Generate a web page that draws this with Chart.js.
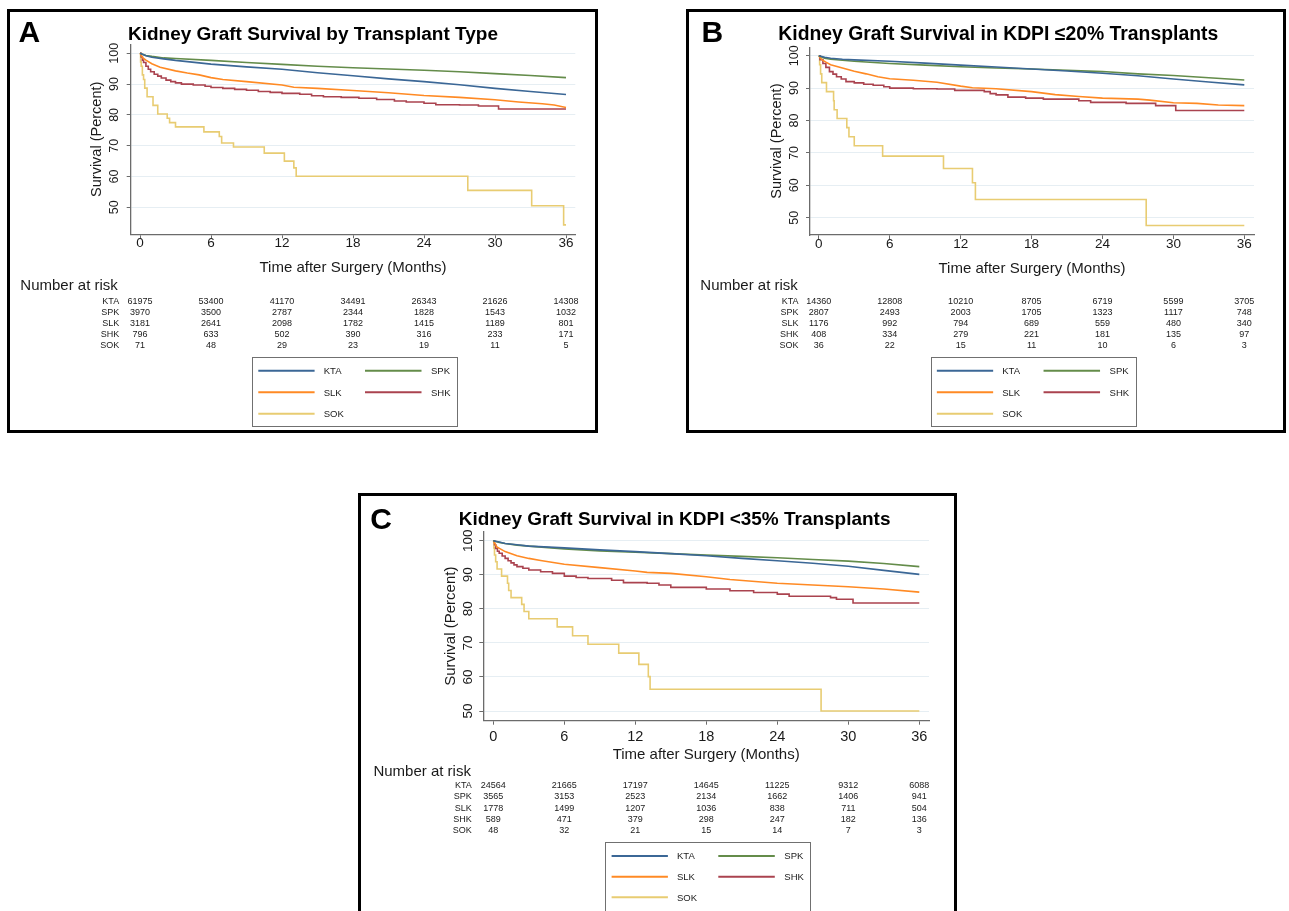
<!DOCTYPE html>
<html>
<head>
<meta charset="utf-8">
<script src="https://cdn.jsdelivr.net/npm/chart.js@4.4.1/dist/chart.umd.min.js"></script>
<style>
  html, body { margin: 0; padding: 0; background: #fff; overflow: hidden; width: 1289px; height: 911px; }
  canvas { position: absolute; }
  .frame { position: absolute; border: 3px solid #000; box-sizing: border-box; pointer-events: none; }
</style>
</head>
<body>
<canvas id="chartA"></canvas>
<canvas id="chartB"></canvas>
<canvas id="chartC"></canvas>
<script>
// Series and axis definitions
const groups = ['KTA', 'SPK', 'SLK', 'SHK', 'SOK'];
const colors = ['#3b6796', '#648c4a', '#ff8a24', '#aa434f', '#e8cc72'];
const stepped = [false, false, false, true, true];
const xTicks = [0, 6, 12, 18, 24, 30, 36];
const yTicks = [50, 60, 70, 80, 90, 100];

// Panel A: all transplants  [months, survival %]
const kmA_KTA = [[0,100],[0.5,99.2],[1,98.7],[2,98.2],[3,97.7],[6,96.5],[9,95.6],[12,94.8],[15,93.7],[18,92.7],[21,91.7],[24,90.8],[27,89.8],[30,88.6],[33,87.6],[36,86.6]];
const kmA_SPK = [[0,100],[0.5,99.3],[1,99.0],[2,98.5],[3,98.3],[6,97.7],[9,97.0],[12,96.4],[15,95.8],[18,95.3],[21,94.9],[24,94.5],[27,94.0],[30,93.4],[33,92.8],[36,92.1]];
const kmA_SLK = [[0,100],[0.25,98.5],[0.5,97.8],[1,96.6],[1.7,95.5],[3,94.3],[4,93.6],[5,93.0],[6,92.1],[7,91.5],[9,90.8],[12,89.7],[13,89.0],[15,88.6],[18,87.9],[21,87.2],[24,86.3],[27,85.7],[30,84.9],[32,84.2],[34,83.6],[35,83.2],[36,82.4]];
const kmA_SHK = [[0,100],[0.1,98.8],[0.2,97.8],[0.3,97.0],[0.5,95.8],[0.7,94.8],[0.9,94.0],[1.2,93.2],[1.5,92.6],[1.8,92.0],[2.2,91.3],[2.6,90.8],[3,90.4],[3.5,90.0],[4.5,89.7],[5.5,89.3],[6,88.9],[7,88.6],[8,88.3],[9,88.0],[10,87.6],[11,87.3],[12,87.0],[13.5,86.7],[14.5,86.2],[15.5,85.9],[17,85.7],[18.5,85.4],[20,85.0],[21.5,84.5],[22.5,84.2],[24,83.8],[25,83.3],[27,83.2],[28.6,82.9],[30.3,81.9],[36,81.9]];
const kmA_SOK = [[0,100],[0.05,97.2],[0.1,95.8],[0.2,93.0],[0.3,91.5],[0.4,88.7],[0.6,85.9],[1.1,83.1],[1.5,80.3],[2.3,78.9],[2.5,77.5],[3.0,76.1],[5.4,74.5],[6.7,73.0],[6.9,70.9],[7.9,69.6],[10.5,67.6],[12.2,65.0],[13.0,62.8],[13.2,60.1],[27.7,55.5],[33.1,50.5],[35.8,44.3],[36,44.3]];
const riskA = [
  [61975, 53400, 41170, 34491, 26343, 21626, 14308],
  [3970, 3500, 2787, 2344, 1828, 1543, 1032],
  [3181, 2641, 2098, 1782, 1415, 1189, 801],
  [796, 633, 502, 390, 316, 233, 171],
  [71, 48, 29, 23, 19, 11, 5]
];

// Panel B: KDPI <=20%
const kmB_KTA = [[0,100],[0.5,99.5],[1,99.2],[2,98.9],[3,98.7],[6,98.3],[9,97.7],[12,97.1],[15,96.5],[18,95.9],[21,95.3],[24,94.6],[27,93.8],[30,92.8],[33,91.9],[36,91.0]];
const kmB_SPK = [[0,100],[0.5,99.2],[1,98.9],[2,98.6],[3,98.3],[6,97.6],[9,97.1],[12,96.6],[15,96.2],[18,95.9],[21,95.5],[24,95.1],[27,94.4],[30,93.9],[33,93.2],[36,92.5]];
const kmB_SLK = [[0,100],[0.25,98.8],[0.6,98.0],[1,97.2],[2,96.2],[3,95.2],[4,94.4],[5,93.5],[6,92.9],[8,92.4],[10,91.8],[12,90.6],[13,90.1],[15,89.8],[18,88.9],[20,88.0],[22,87.4],[24,86.9],[27,86.6],[28,86.3],[30,85.5],[32,85.3],[33.8,84.8],[36,84.6]];
const kmB_SHK = [[0,100],[0.1,98.8],[0.35,97.6],[0.6,96.4],[0.9,95.1],[1.2,94.3],[1.5,93.5],[1.9,92.8],[2.3,92.0],[3,91.6],[3.8,91.2],[4.6,90.9],[5.5,90.4],[6,90.0],[8,89.8],[10,89.7],[11.5,89.3],[14,88.9],[14.5,88.3],[15,87.9],[16,87.2],[17.5,86.9],[19,86.6],[22,86.1],[23,85.6],[26,85.3],[28.5,84.6],[30.2,83.1],[36,83.1]];
const kmB_SOK = [[0,100],[0.07,97.2],[0.15,94.4],[0.25,91.7],[0.65,88.9],[1.25,86.1],[1.3,83.3],[1.55,80.6],[2.37,77.8],[2.55,75.0],[3.0,72.2],[5.4,69.0],[10.55,65.2],[13.0,60.8],[13.25,55.6],[27.7,47.6],[36,47.6]];
const riskB = [
  [14360, 12808, 10210, 8705, 6719, 5599, 3705],
  [2807, 2493, 2003, 1705, 1323, 1117, 748],
  [1176, 992, 794, 689, 559, 480, 340],
  [408, 334, 279, 221, 181, 135, 97],
  [36, 22, 15, 11, 10, 6, 3]
];

// Panel C: KDPI <35%
const kmC_KTA = [[0,100],[0.5,99.6],[1,99.2],[2,98.8],[3,98.4],[6,97.9],[9,97.3],[12,96.8],[15,96.2],[18,95.6],[21,94.8],[24,94.1],[27,93.4],[30,92.5],[33,91.3],[36,90.1]];
const kmC_SPK = [[0,100],[0.5,99.5],[1,99.2],[2,98.7],[3,98.4],[6,97.6],[9,97.0],[12,96.6],[15,96.2],[18,95.8],[21,95.4],[24,95.0],[27,94.5],[30,94.0],[33,93.3],[36,92.4]];
const kmC_SLK = [[0,100],[0.3,98.2],[1,96.8],[2,95.6],[3,94.8],[4,94.2],[6,93.1],[9,92.1],[12,91.1],[13,90.7],[15,90.4],[18,89.4],[20,88.6],[24,87.5],[27,87.0],[30,86.5],[33,85.8],[36,84.9]];
const kmC_SHK = [[0,100],[0.1,98.8],[0.2,97.7],[0.35,96.9],[0.5,96.3],[0.75,95.5],[1,94.8],[1.25,94.1],[1.5,93.5],[1.75,92.9],[2,92.4],[2.5,91.9],[3,91.4],[4,90.9],[5,90.4],[6,89.6],[7,89.2],[8,88.9],[10,88.4],[11,87.7],[13,87.5],[14,87.0],[15,86.3],[18,85.8],[20,85.3],[22,84.8],[24,84.3],[25,83.7],[28.5,83.3],[29,82.8],[30.4,81.7],[36,81.7]];
const kmC_SOK = [[0,100],[0.05,97.9],[0.1,95.8],[0.2,93.8],[0.32,91.7],[0.7,89.6],[1.2,87.5],[1.3,85.4],[1.5,83.3],[2.4,81.3],[2.6,79.2],[3.0,77.1],[5.4,74.7],[6.7,72.1],[8.0,69.6],[10.6,67.0],[12.3,63.7],[13.1,60.1],[13.25,56.4],[27.7,50.0],[36,50.0]];
const riskC = [
  [24564, 21665, 17197, 14645, 11225, 9312, 6088],
  [3565, 3153, 2523, 2134, 1662, 1406, 941],
  [1778, 1499, 1207, 1036, 838, 711, 504],
  [589, 471, 379, 298, 247, 182, 136],
  [48, 32, 21, 15, 14, 7, 3]
];

const FONT = '"Liberation Sans", Arial, Helvetica, sans-serif';

// page geometry of each panel (pixels)
const panels = [
  { id: 'chartA', letter: 'A', title: 'Kidney Graft Survival by Transplant Type',
    km: [kmA_KTA, kmA_SPK, kmA_SLK, kmA_SHK, kmA_SOK], risk: riskA,
    box: [7, 9, 598, 433], axL: 130.7, axR: 575.3, axT: 44.3, axB: 234.3, t0: 140, t36: 566, y100: 53.3, y50: 207.3,
    letterX: 18.5, letterBase: 41.7, titleX: 128, titleBase: 40, titleW: 370,
    yLabX: 113, yLabSize: 12.5, yTitX: 96, yTitSize: 14.5, xLabY: 242.3, xLabSize: 13.5, xTitY: 266.7, xTitSize: 15,
    narX: 20.3, narY: 285, rowY: [300.7, 311.7, 322.7, 333.3, 344.3],
    legTop: 357.3, legBot: 426.7, legRows: [370.7, 392.3, 413.7] },
  { id: 'chartB', letter: 'B', title: 'Kidney Graft Survival in KDPI \u226420% Transplants',
    km: [kmB_KTA, kmB_SPK, kmB_SLK, kmB_SHK, kmB_SOK], risk: riskB,
    box: [686, 9, 1286, 433], axL: 810, axR: 1254, axT: 47.3, axB: 235, t0: 818.8, t36: 1244.3, y100: 55.7, y50: 217.7,
    letterX: 701.5, letterBase: 41.7, titleX: 778.3, titleBase: 40, titleW: 440,
    yLabX: 793.3, yLabSize: 12.5, yTitX: 776, yTitSize: 14.5, xLabY: 242.7, xLabSize: 13.5, xTitY: 267.3, xTitSize: 15,
    narX: 700.3, narY: 285, rowY: [300.7, 311.7, 322.7, 333.3, 344.3],
    legTop: 357.3, legBot: 426.7, legRows: [370.7, 392.3, 413.7] },
  { id: 'chartC', letter: 'C', title: 'Kidney Graft Survival in KDPI <35% Transplants',
    km: [kmC_KTA, kmC_SPK, kmC_SLK, kmC_SHK, kmC_SOK], risk: riskC,
    box: [358, 493, 957, 915], axL: 483.3, axR: 929, axT: 531.7, axB: 720.7, t0: 493.3, t36: 919.3, y100: 540.7, y50: 711,
    letterX: 370.3, letterBase: 529.3, titleX: 458.8, titleBase: 525, titleW: 432,
    yLabX: 466.7, yLabSize: 13.5, yTitX: 450, yTitSize: 15, xLabY: 735.3, xLabSize: 14.5, xTitY: 753.7, xTitSize: 15,
    narX: 373.4, narY: 771, rowY: [785, 796, 807.3, 818.7, 829.7],
    legTop: 841.7, legBot: 911.5, legRows: [856, 876.7, 897.3] }
];

function put(ctx, str, x, yc, size, align, bold) {
  ctx.font = (bold ? 'bold ' : '') + size + 'px ' + FONT;
  ctx.textAlign = align;
  ctx.textBaseline = 'alphabetic';
  ctx.fillText(str, x, yc + size * 0.36);
}

function drawPanelText(chart, P) {
  const ctx = chart.ctx;
  const ox = P.box[0], oy = P.box[1];
  const xs = chart.scales.x, ys = chart.scales.y;
  const area = chart.chartArea;
  ctx.save();

  // panel letter and title
  ctx.fillStyle = '#000';
  ctx.textAlign = 'left';
  ctx.textBaseline = 'alphabetic';
  ctx.font = 'bold 30px ' + FONT;
  ctx.fillText(P.letter, P.letterX - ox, P.letterBase - oy);
  ctx.font = 'bold 19px ' + FONT;
  const tsize = 19 * P.titleW / ctx.measureText(P.title).width;
  ctx.font = 'bold ' + tsize.toFixed(2) + 'px ' + FONT;
  ctx.fillText(P.title, P.titleX - ox, P.titleBase - oy);

  // y tick labels (vertical, Stata style)
  ctx.fillStyle = '#1a1a1a';
  yTicks.forEach(v => {
    ctx.save();
    ctx.translate(P.yLabX - ox, ys.getPixelForValue(v));
    ctx.rotate(-Math.PI / 2);
    put(ctx, String(v), 0, 0, P.yLabSize, 'center');
    ctx.restore();
  });
  ctx.save();
  ctx.translate(P.yTitX - ox, (area.top + area.bottom) / 2);
  ctx.rotate(-Math.PI / 2);
  put(ctx, 'Survival (Percent)', 0, 0, P.yTitSize, 'center');
  ctx.restore();

  // x tick labels + title
  xTicks.forEach(t => put(ctx, String(t), xs.getPixelForValue(t), P.xLabY - oy, P.xLabSize, 'center'));
  put(ctx, 'Time after Surgery (Months)', (area.left + area.right) / 2, P.xTitY - oy, P.xTitSize, 'center');

  // number at risk table
  put(ctx, 'Number at risk', P.narX - ox, P.narY - oy, 15, 'left');
  groups.forEach((g, i) => {
    const y = P.rowY[i] - oy;
    put(ctx, g, P.axL - 11.5 - ox, y, 9, 'right');
    P.risk[i].forEach((n, j) => put(ctx, String(n), xs.getPixelForValue(xTicks[j]), y, 9, 'center'));
  });

  // legend
  const cx = xs.getPixelForValue(18);
  ctx.strokeStyle = '#707070';
  ctx.lineWidth = 1;
  ctx.strokeRect(Math.round(cx - 101) + 0.5, Math.round(P.legTop - oy) + 0.5, 205, Math.round(P.legBot - P.legTop));
  groups.forEach((g, i) => {
    const col = i % 2, row = Math.floor(i / 2);
    const y = P.legRows[row] - oy;
    const x1 = cx + (col ? 12 : -94.7), x2 = cx + (col ? 68.5 : -38.4);
    ctx.strokeStyle = colors[i];
    ctx.lineWidth = 2;
    ctx.beginPath();
    ctx.moveTo(x1, y);
    ctx.lineTo(x2, y);
    ctx.stroke();
    ctx.fillStyle = '#1a1a1a';
    put(ctx, g, cx + (col ? 78 : -29.3), y, 9.5, 'left');
  });
  ctx.restore();
}

function makePanel(P) {
  const cv = document.getElementById(P.id);
  const w = P.box[2] - P.box[0], h = P.box[3] - P.box[1];
  cv.width = w; cv.height = h;
  cv.style.left = P.box[0] + 'px';
  cv.style.top = P.box[1] + 'px';
  cv.style.width = w + 'px';
  cv.style.height = h + 'px';

  const frame = document.createElement('div');
  frame.className = 'frame';
  frame.style.left = P.box[0] + 'px';
  frame.style.top = P.box[1] + 'px';
  frame.style.width = w + 'px';
  frame.style.height = h + 'px';
  document.body.appendChild(frame);

  const pxm = (P.t36 - P.t0) / 36, pyu = (P.y50 - P.y100) / 50;
  const xMin = -(P.t0 - P.axL) / pxm, xMax = 36 + (P.axR - P.t36) / pxm;
  const yMax = 100 + (P.y100 - P.axT) / pyu, yMin = 50 - (P.axB - P.y50) / pyu;

  new Chart(cv, {
    type: 'line',
    data: {
      datasets: groups.map((g, i) => ({
        label: g,
        data: P.km[i].map(p => ({ x: p[0], y: p[1] })),
        borderColor: colors[i],
        borderWidth: 1.6,
        pointRadius: 0,
        fill: false,
        tension: 0,
        stepped: stepped[i]
      }))
    },
    options: {
      responsive: false,
      animation: false,
      events: [],
      layout: { padding: { left: P.axL - P.box[0], top: P.axT - P.box[1], right: P.box[2] - P.axR, bottom: P.box[3] - P.axB } },
      plugins: { legend: { display: false }, title: { display: false }, tooltip: { enabled: false } },
      scales: {
        x: {
          type: 'linear', min: xMin, max: xMax,
          afterBuildTicks: s => { s.ticks = xTicks.map(v => ({ value: v })); },
          afterFit: s => { s.height = 0; },
          ticks: { display: false },
          grid: { drawOnChartArea: false, drawTicks: true, tickLength: 4, color: '#6b6b6b' },
          border: { display: true, color: '#6b6b6b', width: 1.3 }
        },
        y: {
          type: 'linear', min: yMin, max: yMax,
          afterBuildTicks: s => { s.ticks = yTicks.map(v => ({ value: v })); },
          afterFit: s => { s.width = 0; },
          ticks: { display: false },
          grid: { color: '#e6eef3', tickColor: '#6b6b6b', tickLength: 4, lineWidth: 1 },
          border: { display: true, color: '#6b6b6b', width: 1.3 }
        }
      }
    },
    plugins: [{ id: 'panelText', afterDraw: chart => drawPanelText(chart, P) }]
  });
}

panels.forEach(makePanel);
</script>
</body>
</html>
